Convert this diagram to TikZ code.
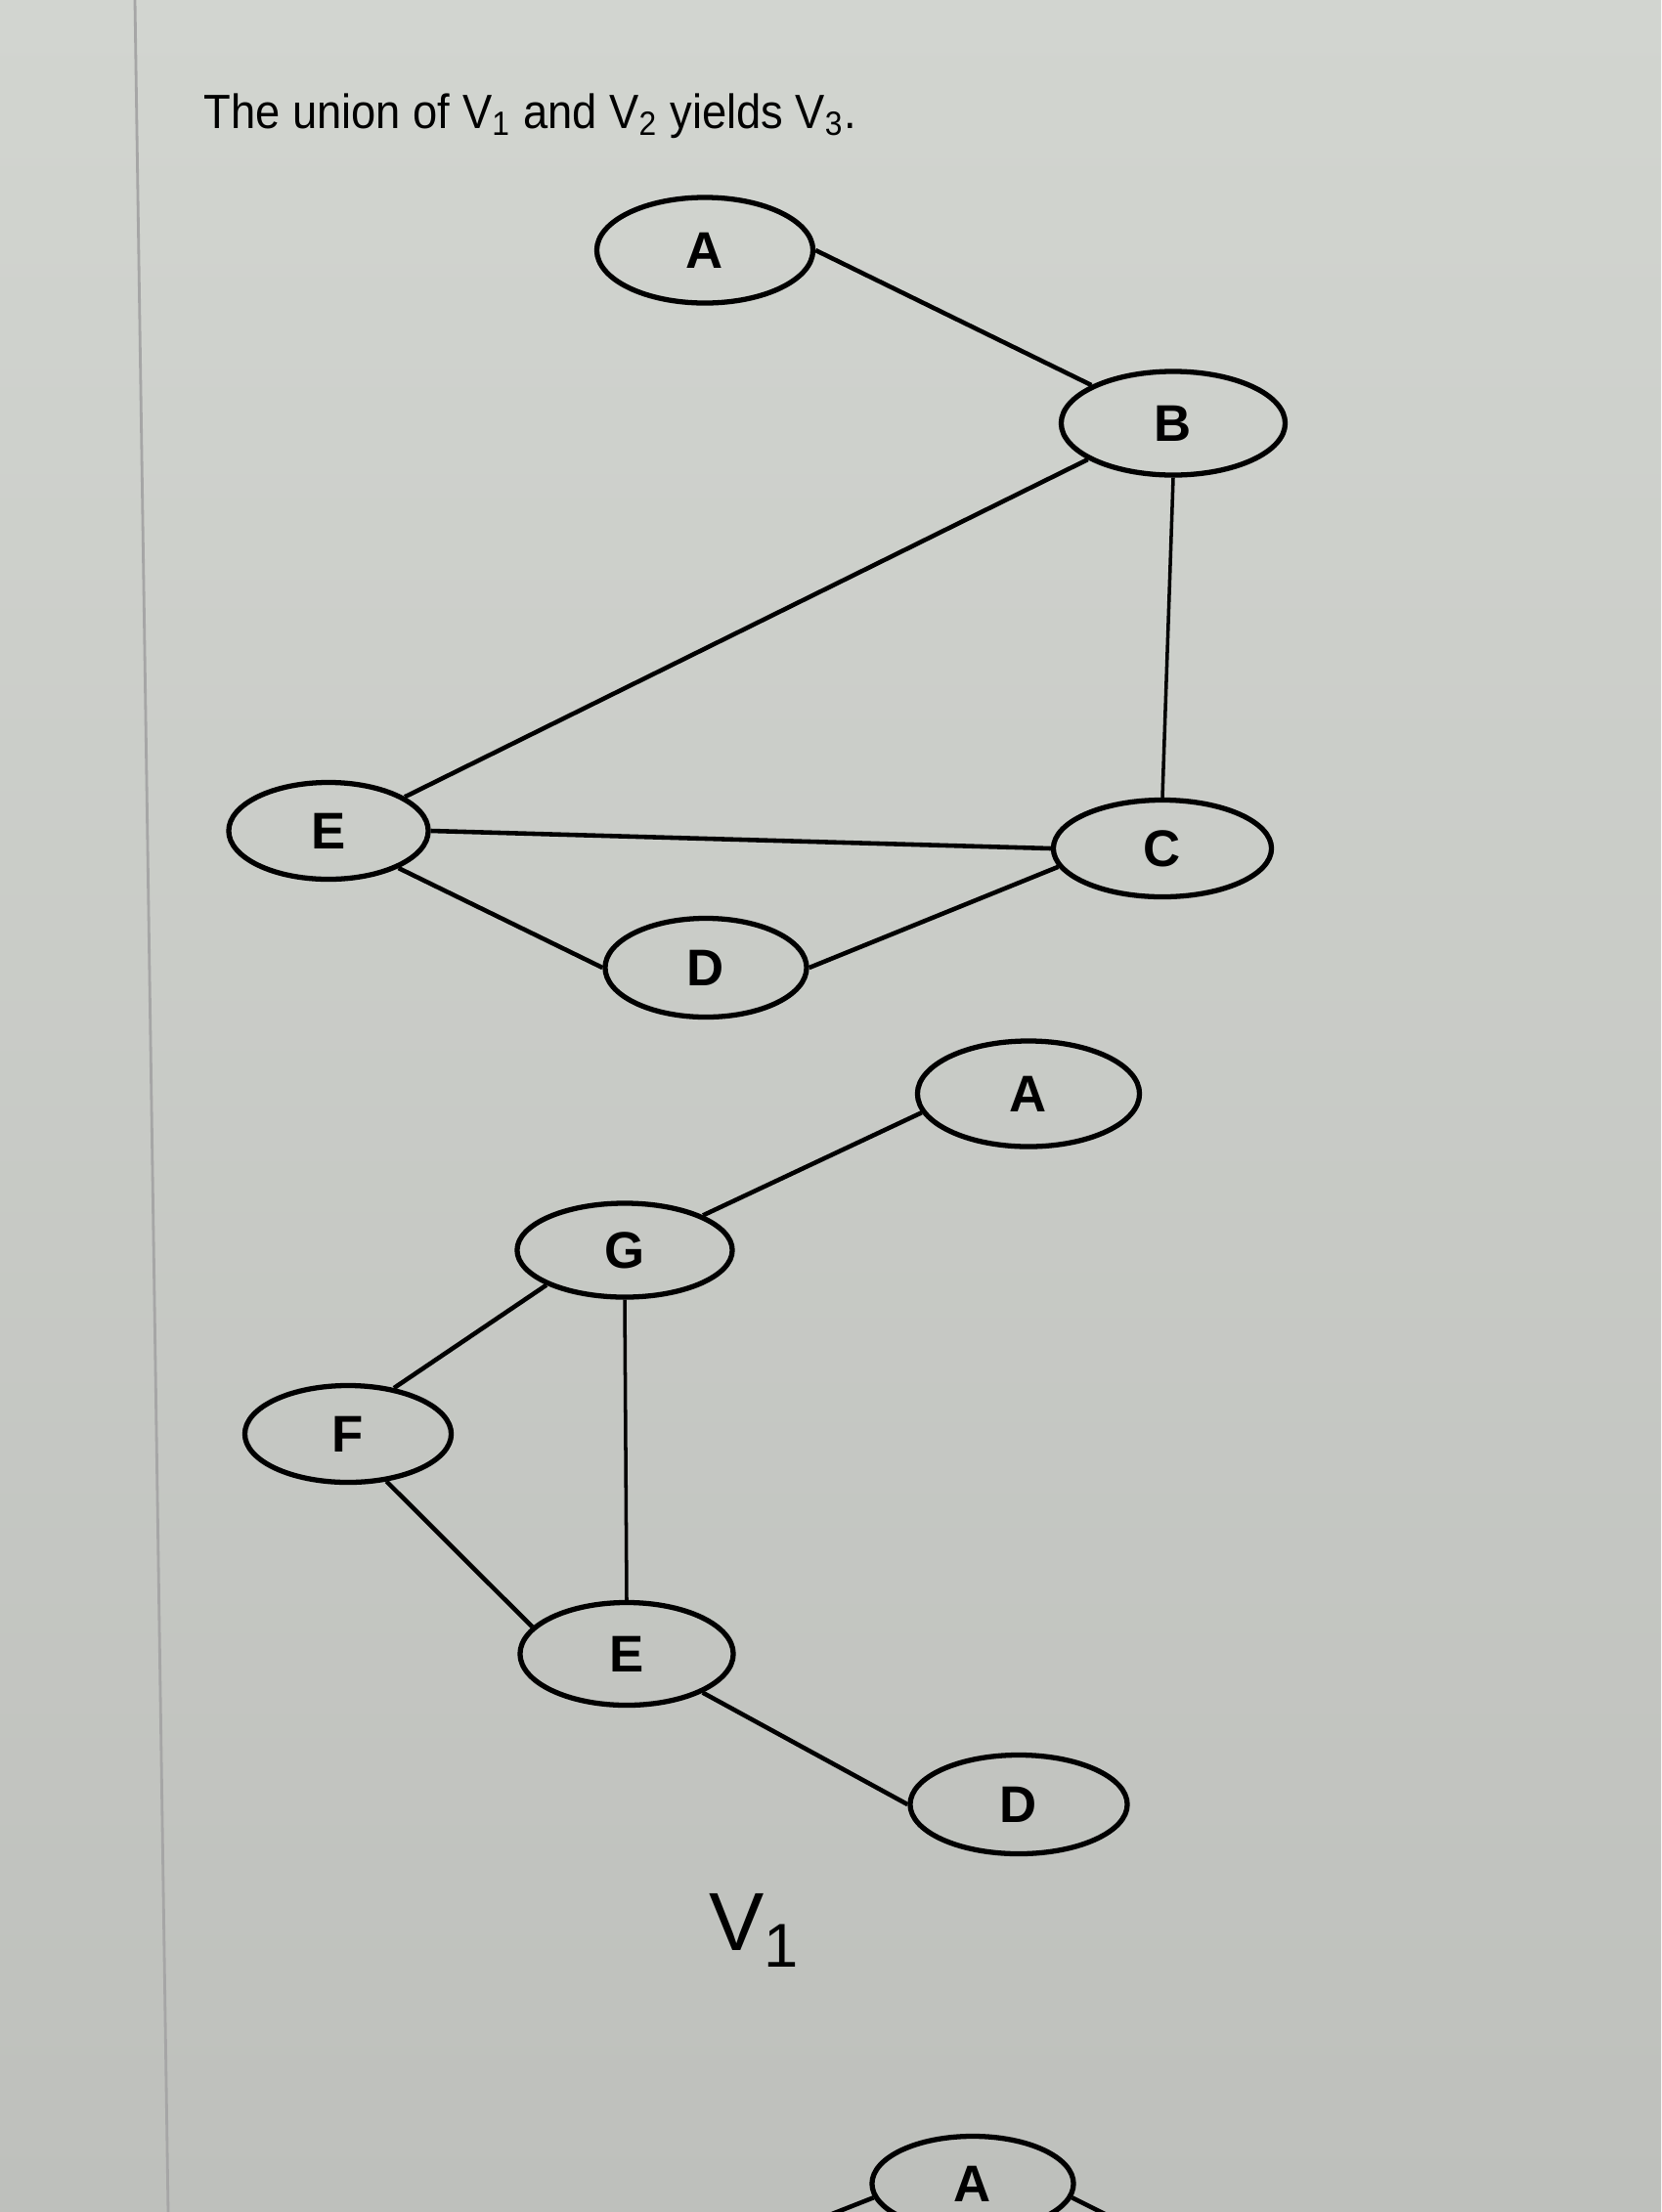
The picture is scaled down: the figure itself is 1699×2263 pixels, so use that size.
\documentclass[tikz,border=0pt]{standalone}
\usepackage{fontspec}
\setmainfont{Liberation Sans}
\usetikzlibrary{shapes.geometric}
\definecolor{screen}{RGB}{210,213,208}
\definecolor{screendark}{RGB}{190,192,188}
\tikzset{
	vertex/.style={
			ellipse, draw=black, line width=1.5pt,
			minimum width=2.2cm, minimum height=1.02cm, inner sep=0pt,
			font=\fontsize{15pt}{15pt}\selectfont\bfseries
		},
	link/.style={line width=1.3pt},
	thinlink/.style={line width=1pt}
}

\begin{document}
\begin{tikzpicture}[x=0.01cm, y=-0.01cm]
		% Screen background
		\clip (0,0) rectangle (1699,2263);
		\shade[top color=screen, bottom color=screendark] (0,0) rectangle (1699,2263);
		\draw[gray!70, line width=0.8pt] (138,0) -- (172,2263);

		% Title line
		\node[anchor=base west, inner sep=0pt, font=\fontsize{14pt}{14pt}\selectfont] (title) at (208,131)
		{\scalebox{0.92}[1]{The union of V\textsubscript{1} and V\textsubscript{2} yields V\textsubscript{3}.}};

		% First graph: the vertices
		\node[vertex, minimum width=2.21cm, minimum height=1.08cm] (A) at (721,256) {A};
		\node[vertex, minimum width=2.29cm, minimum height=1.06cm] (B) at (1200,433) {B};
		\node[vertex, minimum width=2.04cm, minimum height=0.99cm] (E) at (336,850) {E};
		\node[vertex, minimum width=2.23cm, minimum height=0.99cm] (C) at (1189,868) {C};
		\node[vertex, minimum width=2.06cm, minimum height=1.01cm] (D) at (722,990) {D};

		% First graph: the edges
		\draw[link] (A.east) -- (B.155);
		\draw[link] (B.203) -- (E.24);
		\draw[thinlink] (B.south) -- (C.north);
		\draw[link] (E.east) -- (C.west);
		\draw[link] (E.-28) -- (D.west);
		\draw[link] (D.east) -- (C.190);

		% Second graph: the vertices
		\node[vertex, minimum width=2.27cm, minimum height=1.08cm] (A2) at (1052,1119) {A};
		\node[vertex, minimum width=2.20cm, minimum height=0.96cm] (G2) at (639,1279) {G};
		\node[vertex, minimum width=2.11cm, minimum height=0.99cm] (F2) at (356,1467) {F};
		\node[vertex, minimum width=2.18cm, minimum height=1.05cm] (E2) at (641,1692) {E};
		\node[vertex, minimum width=2.22cm, minimum height=1.01cm] (D2) at (1042,1846) {D};

		% Second graph: the edges
		\draw[link] (G2.24) -- (A2.190);
		\draw[link] (F2.45) -- (G2.204);
		\draw[thinlink] (G2.south) -- (E2.north);
		\draw[link] (F2.-51) -- (E2.164);
		\draw[link] (E2.-27) -- (D2.west);

		% Caption of the second graph
		\node[anchor=base west, font=\fontsize{24pt}{24pt}\selectfont] (vone) at (713,1995)
		{V\raisebox{-5pt}{\fontsize{18pt}{18pt}\selectfont 1}};

		% Third graph, cut off by the bottom edge
		\node[vertex, minimum width=2.06cm, minimum height=0.97cm] (A3) at (995,2234) {A};
		\coordinate (a3left) at (653,2343);
		\coordinate (a3right) at (1260,2330);
		\draw[link] (A3.188) -- (a3left);
		\draw[link] (A3.-8) -- (a3right);
	\end{tikzpicture}
\end{document}
